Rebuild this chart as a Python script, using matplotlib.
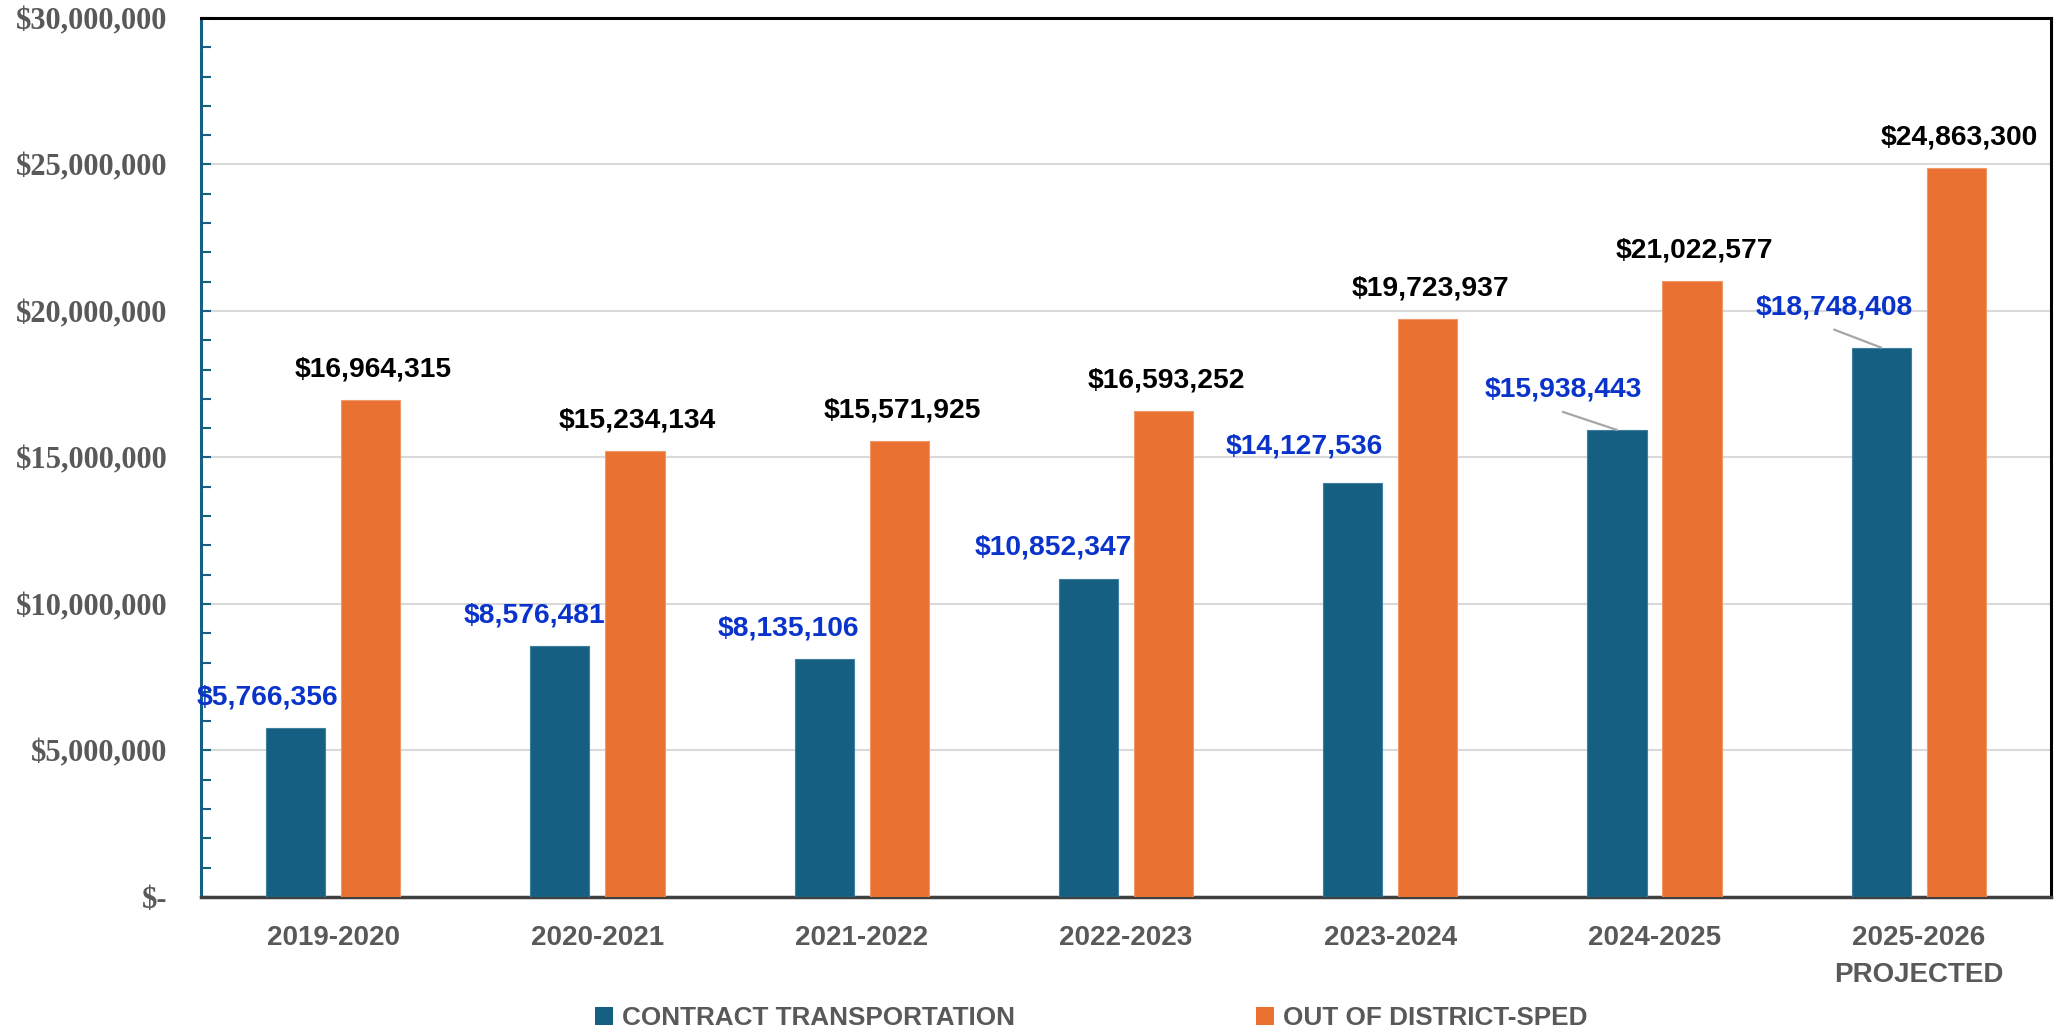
import matplotlib
matplotlib.use("Agg")
import matplotlib.pyplot as plt
from matplotlib.ticker import FuncFormatter, MultipleLocator
from matplotlib.patches import Patch
import numpy as np

# ---- data ----
categories = ["2019-2020", "2020-2021", "2021-2022", "2022-2023",
              "2023-2024", "2024-2025", "2025-2026\nPROJECTED"]
contract_transportation = [5766356, 8576481, 8135106, 10852347,
                           14127536, 15938443, 18748408]
out_of_district_sped = [16964315, 15234134, 15571925, 16593252,
                        19723937, 21022577, 24863300]
series_names = ["CONTRACT TRANSPORTATION", "OUT OF DISTRICT-SPED"]

# ---- styles ----
TEAL = "#156082"
ORANGE = "#E97132"
BLUE_LBL = "#0A33CC"
GREY_TXT = "#595959"
SANS = ["Liberation Sans", "DejaVu Sans"]
SERIF = ["Liberation Serif", "DejaVu Serif"]

# label offsets (points) for the teal labels; leader lines on the last two
teal_dx = [-20, -18, -26, -25, -35, -39, -34]
teal_dy = [22, 22, 22, 23, 26, 29, 29]
leader = [False, False, False, False, False, True, True]

fig = plt.figure(figsize=(20.59, 10.33), dpi=100)
ax = fig.add_axes([0.0976, 0.1317, 0.9961 - 0.0976, 0.9826 - 0.1317])

x = np.arange(len(categories))
w = 0.224
off = 0.142
ax.bar(x - off, contract_transportation, width=w, color=TEAL, zorder=3,
       edgecolor="#3d7f9c", linewidth=0.8)
ax.bar(x + off, out_of_district_sped, width=w, color=ORANGE, zorder=3,
       edgecolor="#f09a6a", linewidth=0.8)

ax.set_xlim(-0.5, len(categories) - 0.5)
ax.set_ylim(0, 30000000)

# labels
for i, v in enumerate(out_of_district_sped):
    ax.annotate(f"${v:,.0f}", xy=(x[i] + off, v), xytext=(2, 22),
                textcoords="offset points", ha="center", va="center",
                fontsize=20.3, fontweight="bold", color="black",
                family=SANS, zorder=5)
for i, v in enumerate(contract_transportation):
    ax.annotate(f"${v:,.0f}", xy=(x[i] - off, v),
                xytext=(teal_dx[i], teal_dy[i]),
                textcoords="offset points", ha="center", va="center",
                fontsize=20.3, fontweight="bold", color=BLUE_LBL,
                family=SANS, zorder=5)
    if leader[i]:
        ax.annotate("", xy=(x[i] - off, v),
                    xytext=(teal_dx[i], teal_dy[i] - 16),
                    textcoords="offset points",
                    arrowprops=dict(arrowstyle="-", color="#A6A6A6", lw=1.6,
                                    shrinkA=0, shrinkB=0),
                    zorder=4)

# y axis
ax.yaxis.set_major_locator(MultipleLocator(5000000))
ax.yaxis.set_minor_locator(MultipleLocator(1000000))
ax.yaxis.set_major_formatter(FuncFormatter(
    lambda v, p: "$-" if v == 0 else f"${v:,.0f}"))
ax.tick_params(axis="y", which="both", direction="in", length=7,
               width=1.5, color=TEAL, pad=24)
for lbl in ax.get_yticklabels():
    lbl.set_fontfamily(SERIF)
    lbl.set_fontsize(22)
    lbl.set_fontweight("bold")
    lbl.set_color(GREY_TXT)

ax.grid(axis="y", which="major", color="#D9D9D9", linewidth=1.5, zorder=0)
ax.set_axisbelow(True)

# x axis
ax.set_xticks(x)
ax.set_xticklabels(categories, fontsize=20, fontweight="bold",
                   color=GREY_TXT, family=SANS, linespacing=1.55)
ax.tick_params(axis="x", length=0, pad=20)

# spines
ax.spines["left"].set_color(TEAL)
ax.spines["left"].set_linewidth(2.2)
ax.spines["top"].set_color("black")
ax.spines["top"].set_linewidth(2.2)
ax.spines["right"].set_color("black")
ax.spines["right"].set_linewidth(2.2)
ax.spines["bottom"].set_color("#404040")
ax.spines["bottom"].set_linewidth(2.5)

# legend
handles = [Patch(facecolor=TEAL), Patch(facecolor=ORANGE)]
fig.legend(handles, series_names, loc="center", bbox_to_anchor=(0.53, 0.0145),
           ncol=2, frameon=False, handlelength=0.7, handleheight=0.7,
           handletextpad=0.35, columnspacing=9.2,
           prop=dict(family=SANS, size=18.8, weight="bold"),
           labelcolor=GREY_TXT)

fig.savefig("out.png", dpi=100)
